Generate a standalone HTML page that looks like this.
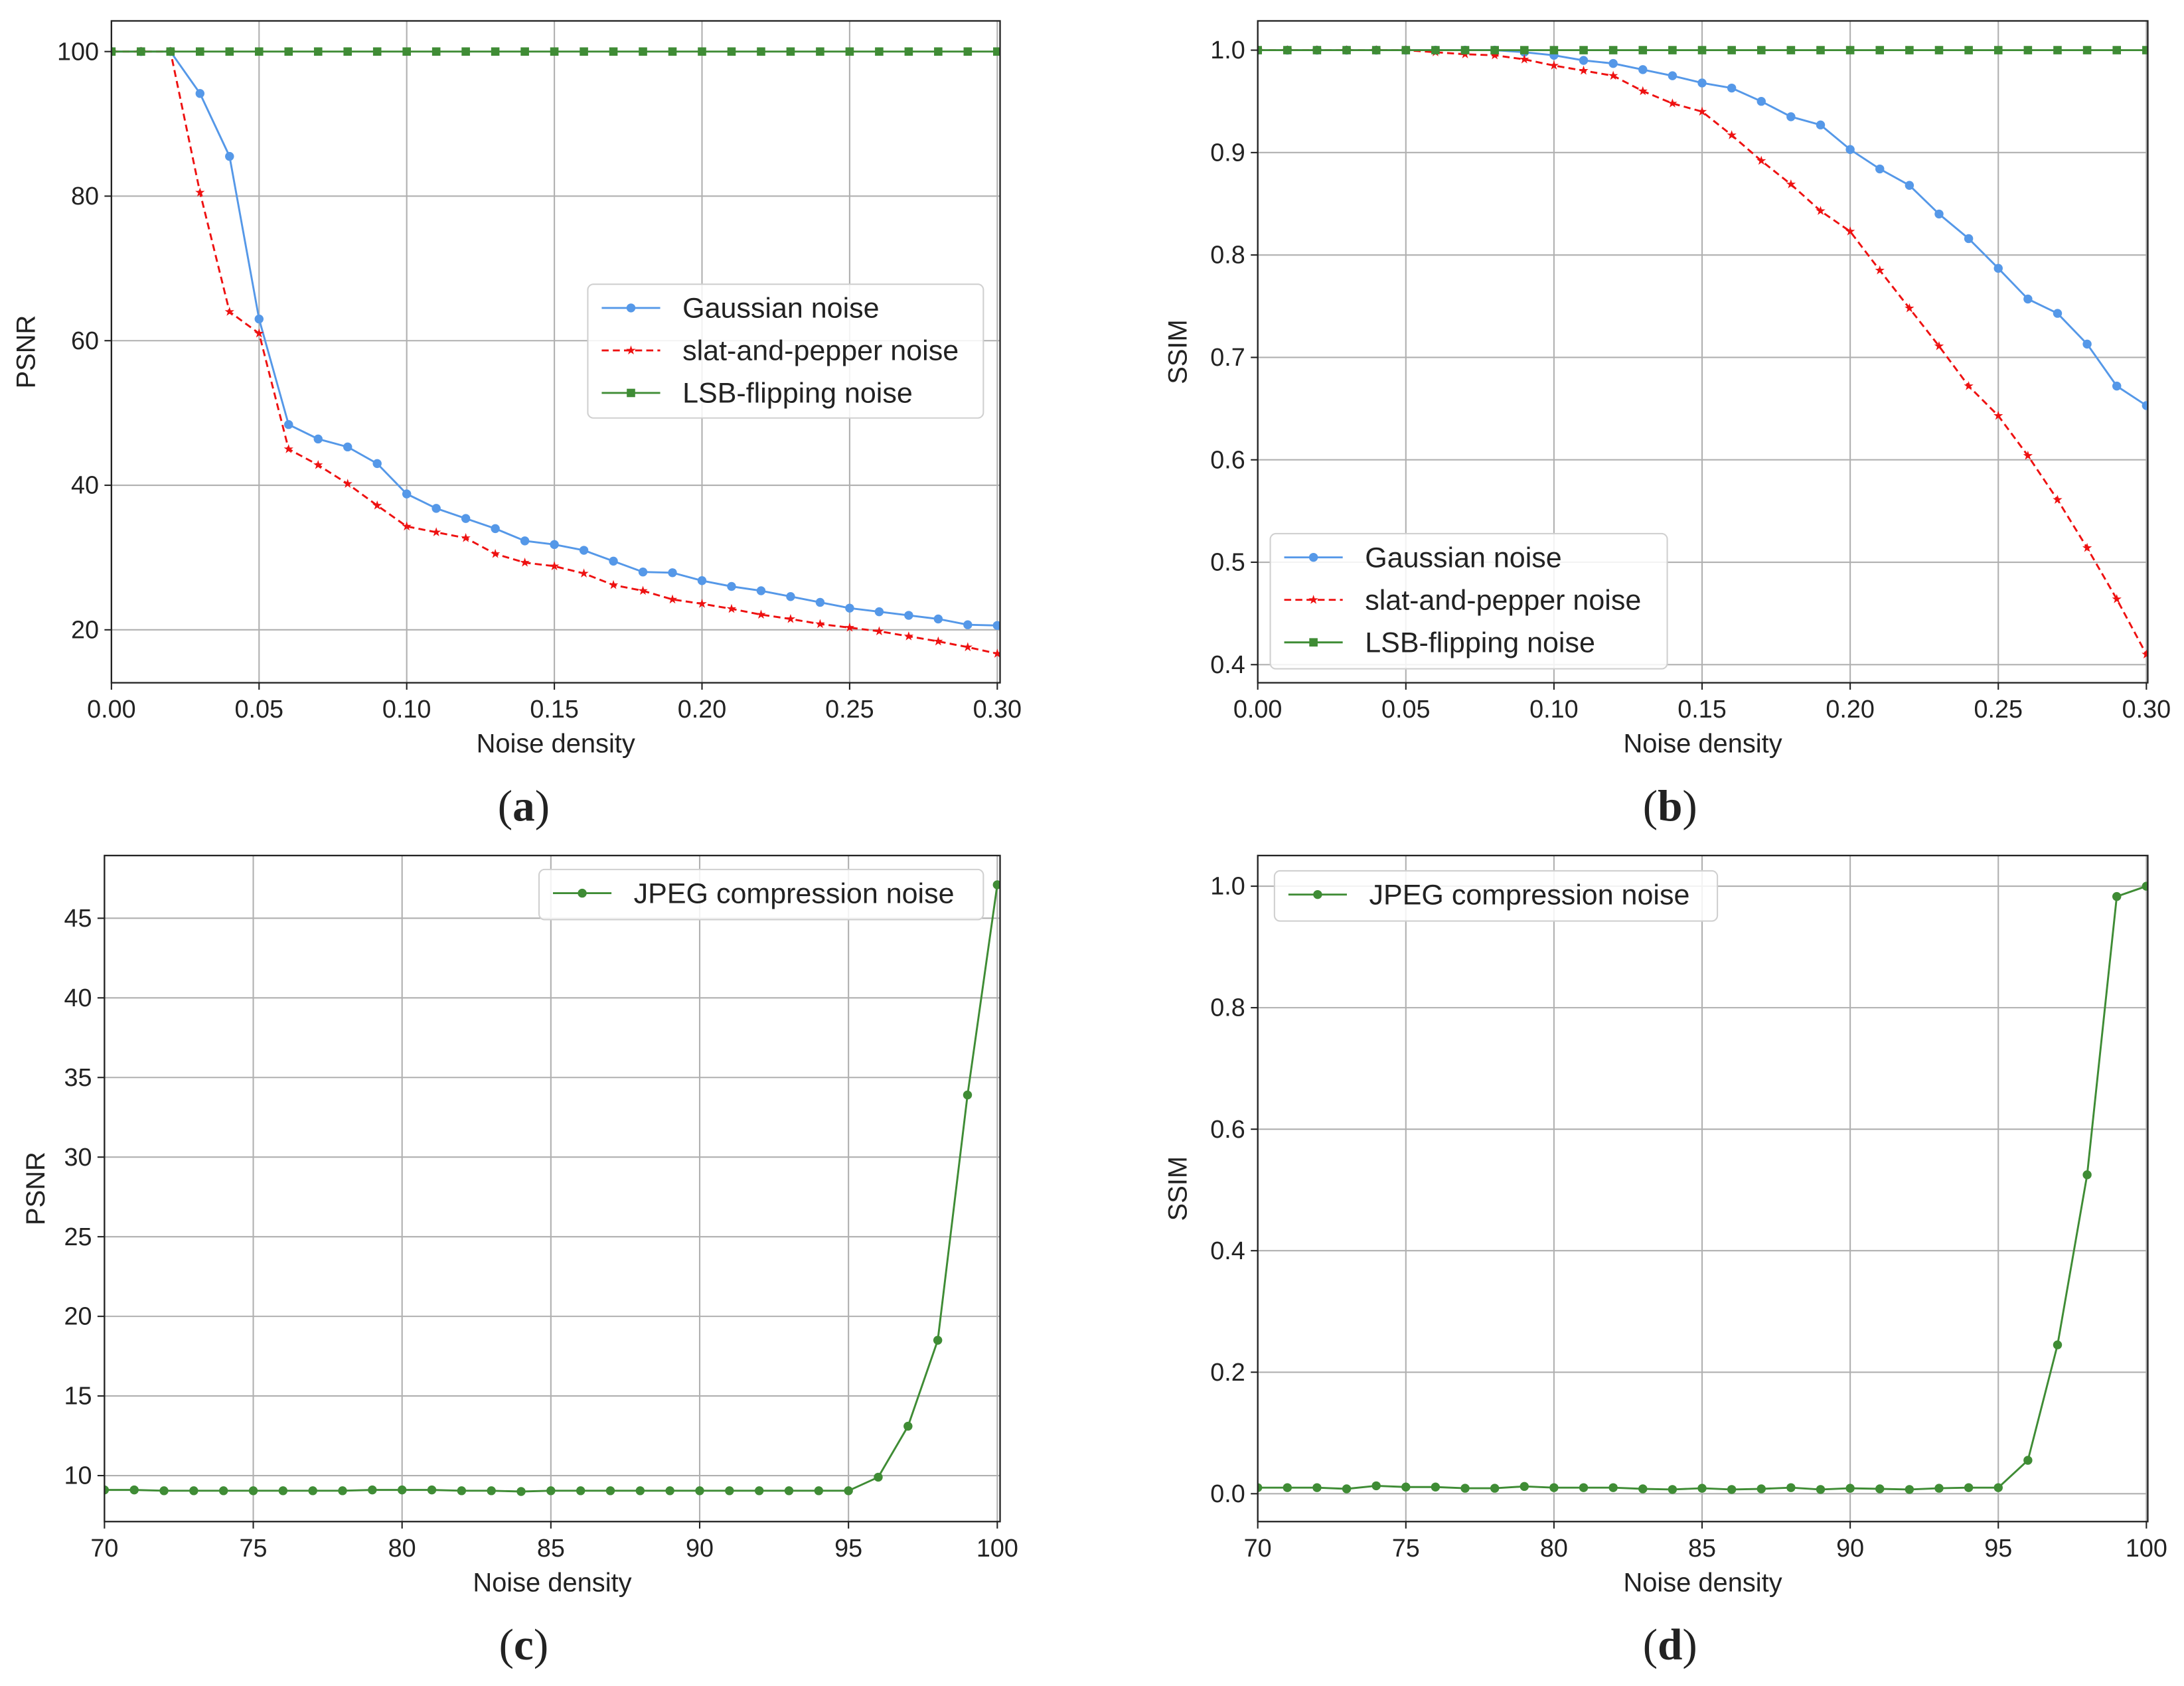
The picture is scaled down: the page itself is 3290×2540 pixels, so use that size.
<!DOCTYPE html>
<html><head><meta charset="utf-8"><style>
html,body{margin:0;padding:0;background:#fff}
svg{display:block}
text{font-family:"Liberation Sans",sans-serif;fill:#222}
text.cap{font-family:"Liberation Serif",serif}
</style></head><body>
<svg id="fig" width="3290" height="2540" viewBox="0 0 1568 1210" preserveAspectRatio="none" xmlns="http://www.w3.org/2000/svg"></svg>
<script>
const xDensity = [0,0.01,0.02,0.03,0.04,0.05,0.06,0.07,0.08,0.09,0.10,0.11,0.12,0.13,0.14,0.15,0.16,0.17,0.18,0.19,0.20,0.21,0.22,0.23,0.24,0.25,0.26,0.27,0.28,0.29,0.30];
const psnrGauss = [100,100,100,94.2,85.5,63,48.4,46.4,45.3,43,38.8,36.8,35.4,34,32.3,31.8,31,29.5,28,27.9,26.8,26,25.4,24.6,23.8,23,22.5,22,21.5,20.7,20.6];
const psnrSalt = [100,100,100,80.5,64,61,45,42.8,40.2,37.2,34.3,33.5,32.7,30.5,29.3,28.8,27.8,26.2,25.4,24.2,23.6,22.9,22.1,21.5,20.8,20.3,19.8,19.1,18.4,17.6,16.7];
const psnrLsb = [100,100,100,100,100,100,100,100,100,100,100,100,100,100,100,100,100,100,100,100,100,100,100,100,100,100,100,100,100,100,100];
const ssimGauss = [1,1,1,1,1,1,1,1,1,0.998,0.995,0.99,0.987,0.981,0.975,0.968,0.963,0.95,0.935,0.927,0.903,0.884,0.868,0.84,0.816,0.787,0.757,0.743,0.713,0.672,0.653];
const ssimSalt = [1,1,1,1,1,1,0.998,0.996,0.995,0.991,0.985,0.98,0.975,0.96,0.948,0.94,0.917,0.892,0.869,0.843,0.823,0.785,0.748,0.711,0.672,0.643,0.604,0.561,0.514,0.464,0.41];
const ssimLsb = [1,1,1,1,1,1,1,1,1,1,1,1,1,1,1,1,1,1,1,1,1,1,1,1,1,1,1,1,1,1,1];
const xQuality = [70,71,72,73,74,75,76,77,78,79,80,81,82,83,84,85,86,87,88,89,90,91,92,93,94,95,96,97,98,99,100];
const jpegPsnr = [9.1,9.1,9.05,9.05,9.05,9.05,9.05,9.05,9.05,9.1,9.1,9.1,9.05,9.05,9.0,9.05,9.05,9.05,9.05,9.05,9.05,9.05,9.05,9.05,9.05,9.05,9.9,13.1,18.5,33.9,47.1];
const jpegSsim = [0.01,0.01,0.01,0.008,0.013,0.011,0.011,0.009,0.009,0.012,0.01,0.01,0.01,0.008,0.007,0.009,0.007,0.008,0.01,0.007,0.009,0.008,0.007,0.009,0.01,0.01,0.055,0.245,0.525,0.983,1.0];
const ticksXa = [0,0.05,0.10,0.15,0.20,0.25,0.30];
const ticksXaLabels = ["0.00","0.05","0.10","0.15","0.20","0.25","0.30"];
const ticksYa = [20,40,60,80,100];
const ticksYb = [0.4,0.5,0.6,0.7,0.8,0.9,1.0];
const ticksXc = [70,75,80,85,90,95,100];
const ticksYc = [10,15,20,25,30,35,40,45];
const ticksYd = [0,0.2,0.4,0.6,0.8,1.0];

const NS="http://www.w3.org/2000/svg";
const svg=document.getElementById('fig');
function mk(tag,attrs,parent){const e=document.createElementNS(NS,tag);for(const k in attrs)e.setAttribute(k,attrs[k]);(parent||svg).appendChild(e);return e;}
const BLUE="#5598e8",RED="#ee1111",GREEN="#3f8c35";

function marker(g,type,x,y,color){
  let m;
  if(type==='o'){m=mk('circle',{cx:x,cy:y,r:3.2,fill:color},g);}
  else if(type==='s'){m=mk('rect',{x:x-3,y:y-3,width:6,height:6,fill:color},g);}
  else {let p=[];for(let i=0;i<10;i++){const r=i%2?1.4:3.6,a=-Math.PI/2+i*Math.PI/5;p.push((x+r*Math.cos(a)).toFixed(2)+','+(y+r*Math.sin(a)).toFixed(2));}
    m=mk('polygon',{points:p.join(' '),fill:color},g);}
  
  
}

function panel(P){
  const g=mk('g',{});
  
  
  const sx=v=>P.x0+(v-P.xmin)/(P.xmax-P.xmin)*(P.x1-P.x0);
  const sy=v=>P.y0+(v-P.ymin)/(P.ymax-P.ymin)*(P.y1-P.y0);
  const cid='clip'+P.name;
  const cp=mk('clipPath',{id:cid},g);mk('rect',{x:P.L,y:P.T,width:P.R-P.L,height:P.B-P.T},cp);
  P.xt.forEach((v,i)=>{const x=sx(v);
    const l=mk('line',{x1:x,x2:x,y1:P.T,y2:P.B,stroke:'#b0b0b0','stroke-width':1},g);
    
    mk('line',{x1:x,x2:x,y1:P.B,y2:P.B+5,stroke:'#222','stroke-width':1},g);
    const t=mk('text',{x:x,y:P.B+25,'font-size':18,'text-anchor':'middle'},g);t.textContent=P.xl[i];
    });
  P.yt.forEach((v,i)=>{const y=sy(v);
    const l=mk('line',{x1:P.L,x2:P.R,y1:y,y2:y,stroke:'#b0b0b0','stroke-width':1},g);
    
    mk('line',{x1:P.L-5,x2:P.L,y1:y,y2:y,stroke:'#222','stroke-width':1},g);
    const t=mk('text',{x:P.L-9,y:y+6,'font-size':18,'text-anchor':'end'},g);t.textContent=P.yl[i];
    });
  const sg=mk('g',{'clip-path':'url(#'+cid+')'},g);
  P.series.forEach(s=>{
    const pts=s.xs.map((v,i)=>sx(v).toFixed(2)+','+sy(s.ys[i]).toFixed(2)).join(' ');
    const pl=mk('polyline',{points:pts,fill:'none',stroke:s.c,'stroke-width':1.4,'stroke-dasharray':s.dash||'none'},sg);
    
    s.xs.forEach((v,i)=>marker(sg,s.m,sx(v),sy(s.ys[i]),s.c));
  });
  const fr=mk('rect',{x:P.L,y:P.T,width:P.R-P.L,height:P.B-P.T,fill:'none',stroke:'#222','stroke-width':1.1},g);
  
  const xl=mk('text',{x:(P.L+P.R)/2,y:P.B+50,'font-size':19,'text-anchor':'middle'},g);xl.textContent='Noise density';
  
  const yl=mk('text',{x:0,y:0,'font-size':19,'text-anchor':'middle',transform:`translate(${P.ylx},${(P.T+P.B)/2}) rotate(-90)`},g);yl.textContent=P.ylab;
  
  const cap=mk('text',{x:P.capx,y:P.B+99,'font-size':32,'text-anchor':'middle','class':'cap'},g);
  cap.innerHTML='(<tspan font-weight="bold">'+P.cap+'</tspan>)';
  
  const lg=mk('g',{},g);
  const L=P.leg;
  mk('rect',{x:L.x,y:L.y,width:L.w,height:L.h,rx:4,fill:'#fff','fill-opacity':0.85,stroke:'#d0d0d0','stroke-width':1},lg);
  P.series.forEach((s,i)=>{const y=L.y+17+i*30.5;
    const e=mk('g',{},lg);
    mk('line',{x1:L.x+10,x2:L.x+52,y1:y,y2:y,stroke:s.c,'stroke-width':1.4,'stroke-dasharray':s.dash||'none'},e);
    marker(e,s.m,L.x+31,y,s.c);
    const t=mk('text',{x:L.x+68,y:y+7,'font-size':20.5},e);t.textContent=s.label;});
}

panel({name:'panel-a',L:80,R:718,T:15,B:490,xmin:0,xmax:0.3,x0:80,x1:716,ymin:20,ymax:100,y0:452,y1:37,
  xt:ticksXa,xl:ticksXaLabels,yt:ticksYa,yl:ticksYa.map(String),ylab:'PSNR',ylx:25,cap:'a',capx:376,
  leg:{x:422,y:204,w:284,h:96},
  series:[{id:'gaussian',xs:xDensity,ys:psnrGauss,c:BLUE,m:'o',label:'Gaussian noise'},
          {id:'salt-pepper',xs:xDensity,ys:psnrSalt,c:RED,m:'*',dash:'5,3',label:'slat-and-pepper noise'},
          {id:'lsb',xs:xDensity,ys:psnrLsb,c:GREEN,m:'s',label:'LSB-flipping noise'}]});
panel({name:'panel-b',L:903,R:1542,T:15,B:490,xmin:0,xmax:0.3,x0:903,x1:1541,ymin:0.4,ymax:1.0,y0:477,y1:36,
  xt:ticksXa,xl:ticksXaLabels,yt:ticksYb,yl:ticksYb.map(v=>v.toFixed(1)),ylab:'SSIM',ylx:852,cap:'b',capx:1199,
  leg:{x:912,y:383,w:285,h:97},
  series:[{id:'gaussian',xs:xDensity,ys:ssimGauss,c:BLUE,m:'o',label:'Gaussian noise'},
          {id:'salt-pepper',xs:xDensity,ys:ssimSalt,c:RED,m:'*',dash:'5,3',label:'slat-and-pepper noise'},
          {id:'lsb',xs:xDensity,ys:ssimLsb,c:GREEN,m:'s',label:'LSB-flipping noise'}]});
panel({name:'panel-c',L:75,R:718,T:614,B:1092,xmin:70,xmax:100,x0:75,x1:716,ymin:10,ymax:45,y0:1059,y1:659,
  xt:ticksXc,xl:ticksXc.map(String),yt:ticksYc,yl:ticksYc.map(String),ylab:'PSNR',ylx:32,cap:'c',capx:376,
  leg:{x:387,y:624,w:319,h:36},
  series:[{id:'jpeg',xs:xQuality,ys:jpegPsnr,c:GREEN,m:'o',label:'JPEG compression noise'}]});
panel({name:'panel-d',L:903,R:1542,T:614,B:1092,xmin:70,xmax:100,x0:903,x1:1541,ymin:0,ymax:1,y0:1072,y1:636,
  xt:ticksXc,xl:ticksXc.map(String),yt:ticksYd,yl:ticksYd.map(v=>v.toFixed(1)),ylab:'SSIM',ylx:852,cap:'d',capx:1199,
  leg:{x:915,y:625,w:318,h:36},
  series:[{id:'jpeg',xs:xQuality,ys:jpegSsim,c:GREEN,m:'o',label:'JPEG compression noise'}]});
</script>
</body></html>
